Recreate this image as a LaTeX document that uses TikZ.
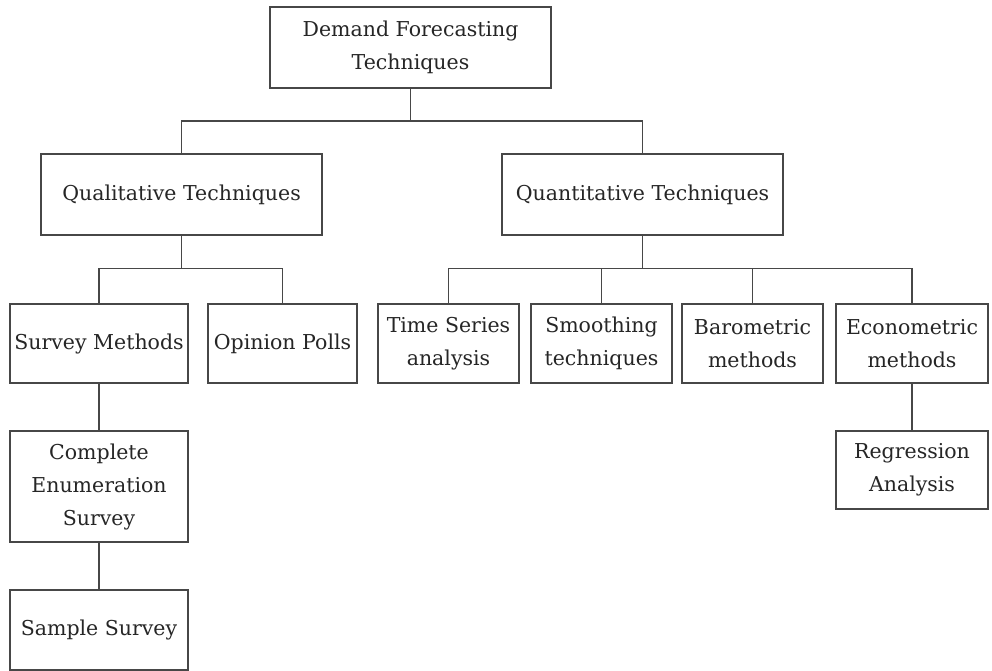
\documentclass[tikz,border=0pt]{standalone}
\usepackage{fontspec}
\setmainfont{DejaVu Serif}
\begin{document}
\begin{tikzpicture}[x=1pt,y=-1pt,
  box/.style={draw=black!72, line width=1.7pt, fill=white, inner sep=0pt,
    align=center, text=black!85,
    font=\fontsize{20.5}{33}\selectfont},
  link/.style={draw=black!72, line width=1.7pt}]
\fill[white] (0,0) rectangle (992,671);
\useasboundingbox (0,0) rectangle (992,671);

% top level
\node[box, minimum width=281pt, minimum height=81pt] (demand) at (410.5,47.5) {Demand Forecasting\\Techniques};

% second level
\node[box, minimum width=281pt, minimum height=81pt] (qual) at (181.5,194.5) {Qualitative Techniques};
\node[box, minimum width=281pt, minimum height=81pt] (quant) at (642.5,194.5) {Quantitative Techniques};

% third level
\node[box, minimum width=178pt, minimum height=79pt] (survey) at (99,343.5) {Survey Methods};
\node[box, minimum width=149pt, minimum height=79pt] (opinion) at (282.5,343.5) {Opinion Polls};
\node[box, minimum width=141pt, minimum height=79pt] (tseries) at (448.5,343.5) {Time Series\\analysis};
\node[box, minimum width=141pt, minimum height=79pt] (smooth) at (601.5,343.5) {Smoothing\\techniques};
\node[box, minimum width=141pt, minimum height=79pt] (baro) at (752.5,343.5) {Barometric\\methods};
\node[box, minimum width=152pt, minimum height=79pt] (econ) at (912,343.5) {Econometric\\methods};

% lower levels
\node[box, minimum width=178pt, minimum height=111pt] (complete) at (99,486.5) {Complete\\Enumeration\\Survey};
\node[box, minimum width=178pt, minimum height=80pt] (sample) at (99,630) {Sample Survey};
\node[box, minimum width=152pt, minimum height=78pt] (regress) at (912,470) {Regression\\Analysis};

% bus lines
\coordinate (busA) at (0,121);
\coordinate (busB) at (0,268.5);

\draw[link] (demand.south) -- (demand.south |- busA) -| (qual.north);
\draw[link] (demand.south |- busA) -| (quant.north);

\draw[link] (qual.south) -- (qual.south |- busB) -| (survey.north);
\draw[link] (qual.south |- busB) -| (opinion.north);

\draw[link] (quant.south) -- (quant.south |- busB) -| (tseries.north);
\draw[link] (quant.south |- busB) -| (smooth.north);
\draw[link] (quant.south |- busB) -| (baro.north);
\draw[link] (quant.south |- busB) -| (econ.north);

\draw[link] (survey.south) -- (complete.north);
\draw[link] (complete.south) -- (sample.north);
\draw[link] (econ.south) -- (regress.north);
\end{tikzpicture}
\end{document}
